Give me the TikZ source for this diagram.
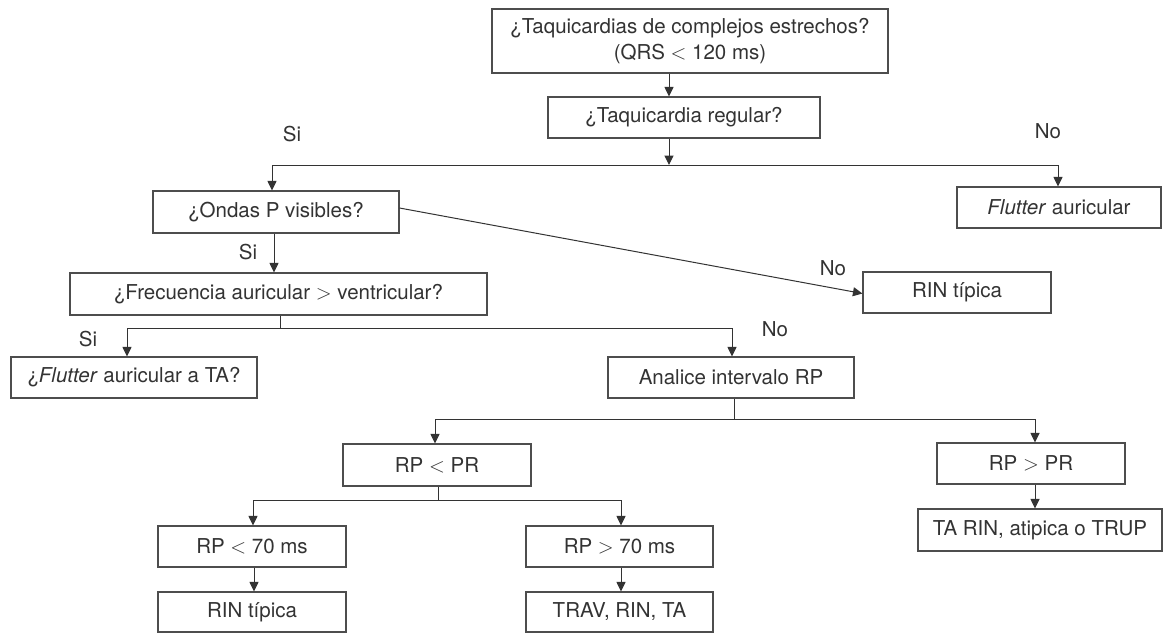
\documentclass[tikz,border=0pt]{standalone}
\usepackage{fontspec}
\setmainfont{TeX Gyre Heros}
\usetikzlibrary{arrows.meta}
\definecolor{ink}{HTML}{333333}
\definecolor{frame}{HTML}{4D4D4D}
\begin{document}
\begin{tikzpicture}[x=1pt,y=-1pt,
  box/.style={draw=frame, line width=1.1pt, text=ink, inner sep=0pt,
              font=\fontsize{20.5}{26}\selectfont, align=center},
  wire/.style={draw=ink, line width=1pt},
  arr/.style={wire, -{Triangle[length=9.5pt,width=9pt]}},
  lbl/.style={text=ink, font=\fontsize{20.5}{24}\selectfont, inner sep=0pt}]
\useasboundingbox[fill=white] (0,0) rectangle (1163,633);

% decision and result boxes
\node[box, minimum width=396pt, minimum height=64pt] (b1) at (690,41)
  {¿Taquicardias de complejos estrechos?\\(QRS $<$ 120 ms)};
\node[box, minimum width=272pt, minimum height=41pt] (b2) at (684,117.5) {¿Taquicardia regular?};
\node[box, minimum width=246pt, minimum height=42pt] (b3) at (276,212) {¿Ondas P visibles?};
\node[box, minimum width=204pt, minimum height=41pt] (flut) at (1059,207.5) {\textit{Flutter} auricular};
\node[box, minimum width=417pt, minimum height=42pt] (b4) at (278.5,294) {¿Frecuencia auricular $>$ ventricular?};
\node[box, minimum width=188pt, minimum height=41pt] (rin1) at (957,292.5) {RIN típica};
\node[box, minimum width=246pt, minimum height=41pt] (b5) at (134,377.5) {¿\textit{Flutter} auricular a TA?};
\node[box, minimum width=246pt, minimum height=41pt] (ana) at (731,377.5) {Analice intervalo RP};
\node[box, minimum width=188pt, minimum height=42pt] (rplt) at (437,465) {RP $<$ PR};
\node[box, minimum width=188pt, minimum height=41pt] (rpgt) at (1031,463.5) {RP $>$ PR};
\node[box, minimum width=188pt, minimum height=41pt] (rpa) at (252,546.5) {RP $<$ 70 ms};
\node[box, minimum width=187pt, minimum height=41pt] (rpb) at (619.5,546.5) {RP $>$ 70 ms};
\node[box, minimum width=188pt, minimum height=40pt] (rin2) at (252,612) {RIN típica};
\node[box, minimum width=187pt, minimum height=40pt] (trav) at (619.5,612) {TRAV, RIN, TA};
\node[box, minimum width=244pt, minimum height=42pt] (tarin) at (1040,530) {TA RIN, atipica o TRUP};

% branch points
\coordinate (s1)  at (669,165);
\coordinate (s1l) at (272,165);
\coordinate (s1r) at (1058,165);
\coordinate (s2)  at (280,328);
\coordinate (s2l) at (127,328);
\coordinate (s2r) at (732,328);
\coordinate (s3)  at (734,419);
\coordinate (s3l) at (435,419);
\coordinate (s3r) at (1035,419);
\coordinate (s4)  at (438,500);
\coordinate (s4l) at (253,500);
\coordinate (s4r) at (621,500);

% connectors
\draw[arr] (b1.south -| s1) -- (b2.north -| s1);
\draw[arr] (b2.south -| s1) -- (s1);
\draw[wire] (s1l) -- (s1r);
\draw[arr] (s1l) -- (b3.north -| s1l);
\draw[arr] (s1r) -- (flut.north -| s1r);

\draw[arr] (b3.south -| 274,0) -- (b4.north -| 274,0);
\draw[arr] ([yshift=4pt]b3.east) -- ([yshift=-1pt]rin1.west);

\draw[wire] (b4.south -| s2) -- (s2);
\draw[wire] (s2l) -- (s2r);
\draw[arr] (s2l) -- (b5.north -| s2l);
\draw[arr] (s2r) -- (ana.north -| s2r);

\draw[wire] (ana.south -| s3) -- (s3);
\draw[wire] (s3l) -- (s3r);
\draw[arr] (s3l) -- (rplt.north -| s3l);
\draw[arr] (s3r) -- (rpgt.north -| s3r);

\draw[wire] (rplt.south -| s4) -- (s4);
\draw[wire] (s4l) -- (s4r);
\draw[arr] (s4l) -- (rpa.north -| s4l);
\draw[arr] (s4r) -- (rpb.north -| s4r);

\draw[arr] (rpa.south -| 254,0) -- (rin2.north -| 254,0);
\draw[arr] (rpb.south -| s4r) -- (trav.north -| s4r);
\draw[arr] (rpgt.south -| s3r) -- (tarin.north -| s3r);

% branch labels
\node[lbl] (l1) at (292,134) {Si};
\node[lbl] (l2) at (1048,131) {No};
\node[lbl] (l3) at (248,252) {Si};
\node[lbl] (l4) at (833,268) {No};
\node[lbl] (l5) at (88,339) {Si};
\node[lbl] (l6) at (775,329) {No};
\end{tikzpicture}
\end{document}
